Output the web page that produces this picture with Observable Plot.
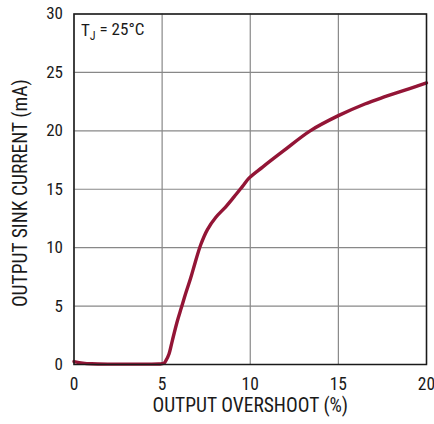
<!DOCTYPE html>
<html><head><meta charset="utf-8">
<script src="https://cdn.jsdelivr.net/npm/d3@7"></script>
<script src="https://cdn.jsdelivr.net/npm/@observablehq/plot@0.6"></script>
<style>
body{margin:0;background:#fff;}
svg{font-family:"Liberation Sans Narrow","Arial Narrow","Roboto Condensed","Liberation Sans",sans-serif;}
</style></head>
<body><div id="chart"></div>
<script>
const overshoot = [0, 0.5, 1, 2, 3, 4, 4.8, 5.1, 5.22, 5.39, 5.58, 5.86, 6.09, 6.33, 6.62, 6.86, 7.19, 7.57, 8.05, 8.61, 9.08, 9.56, 9.93, 10.7, 11.9, 13.4, 15, 16.5, 17.6, 19, 20];
const current   = [0.25, 0.12, 0.06, 0.03, 0.03, 0.03, 0.04, 0.1, 0.35, 0.9, 2.05, 3.7, 4.85, 6.05, 7.4, 8.65, 10.25, 11.55, 12.6, 13.5, 14.35, 15.25, 15.95, 16.9, 18.3, 20.0, 21.3, 22.3, 22.9, 23.6, 24.1];
const xTicks = [0, 5, 10, 15, 20];
const yTicks = [0, 5, 10, 15, 20, 25, 30];
const xLabel = "OUTPUT OVERSHOOT (%)";
const yLabel = "OUTPUT SINK CURRENT (mA)";
const note = [{x: 0, y: 30, t: "T", sub: "J", rest: " = 25°C"}];

const data = overshoot.map((x, i) => ({x, y: current[i]}));

const chart = Plot.plot({
  width: 434, height: 424,
  marginLeft: 73.5, marginRight: 8, marginTop: 13.5, marginBottom: 60,
  style: {fontSize: "17px", color: "#1a1a1a", background: "#fff"},
  x: {domain: [0, 20], ticks: xTicks, label: null},
  y: {domain: [0, 30], ticks: yTicks, label: null},
  marks: [
    Plot.gridX(xTicks, {stroke: "#888", strokeOpacity: 1, strokeWidth: 1.2}),
    Plot.gridY(yTicks, {stroke: "#888", strokeOpacity: 1, strokeWidth: 1.2}),
    Plot.axisX(xTicks, {tickSize: 0, tickPadding: 13, fontSize: 17.5}),
    Plot.axisY(yTicks, {tickSize: 0, tickPadding: 11, fontSize: 17}),
    Plot.line(data, {x: "x", y: "y", stroke: "#931536", strokeWidth: 3.4, curve: "catmull-rom"}),
    Plot.frame({stroke: "#1a1a1a", strokeWidth: 1.5}),
    Plot.text(note, {x: "x", y: "y", text: "t", dx: 7, dy: 17, textAnchor: "start", fontSize: 17, className: "note"}),
    Plot.text([xLabel], {frameAnchor: "bottom", dy: 47, fontSize: 19.5}),
    Plot.text([yLabel], {frameAnchor: "left", textAnchor: "middle", rotate: -90, dx: -53, dy: 4, fontSize: 19.5})
  ]
});
d3.select(chart).selectAll("g.note text").each(function(d, i) {
  const n = note[i] || note[0];
  const t = d3.select(this).text("");
  t.append("tspan").text(n.t);
  t.append("tspan").attr("dy", "0.3em").attr("font-size", "12px").text(n.sub);
  t.append("tspan").attr("dy", "-0.3em").text(n.rest);
});
document.getElementById("chart").append(chart);
</script></body></html>
